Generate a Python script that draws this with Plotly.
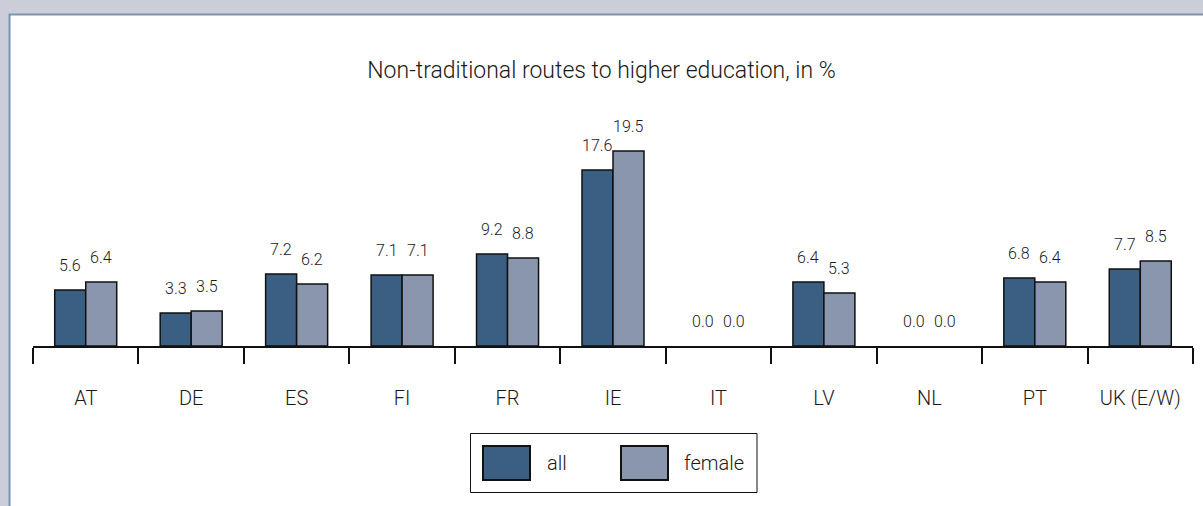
import plotly.graph_objects as go

categories = ["AT", "DE", "ES", "FI", "FR", "IE", "IT", "LV", "NL", "PT", "UK (E/W)"]
all_values = [5.6, 3.3, 7.2, 7.1, 9.2, 17.6, 0.0, 6.4, 0.0, 6.8, 7.7]
female_values = [6.4, 3.5, 6.2, 7.1, 8.8, 19.5, 0.0, 5.3, 0.0, 6.4, 8.5]
series_names = ["all", "female"]
title_text = "Non-traditional routes to higher education, in %"

FONT = "Roboto, Liberation Sans, sans-serif"
TXT = "#1a1a1a"
W, H = 1203, 506
ML, MR, MT, MB = 33, 10, 141, 160
YMAX = 20.5

ph = H - MT - MB
pw = W - ML - MR
def px_x(p):
    return (p - ML) / pw
def px_y(p):
    return (H - MB - p) / ph

fig = go.Figure()
colors = ["#3a5f83", "#8a95ae"]
for name, vals, col in zip(series_names, [all_values, female_values], colors):
    fig.add_trace(go.Bar(
        x=categories, y=vals, name=name,
        marker=dict(color=col, line=dict(color="#111111",
                                         width=[1.5 if v > 0 else 0 for v in vals])),
        cliponaxis=False, showlegend=False,
    ))

# data labels above bars
BARGAP = 0.412
cat_px = pw / len(categories)
bar_px = cat_px * (1 - BARGAP) / 2
for i, vals in enumerate([all_values, female_values]):
    shift = (-0.5 if i == 0 else 0.5) * bar_px
    for c, v in zip(categories, vals):
        fig.add_annotation(x=c, y=v, text=f"{v:.1f}", showarrow=False,
                           xshift=shift, yshift=13, yanchor="bottom",
                           font=dict(family=FONT, size=16, color=TXT, weight=300))

# white panel
fig.add_shape(type="rect", xref="paper", yref="paper",
              x0=px_x(9.5), x1=px_x(1215), y0=px_y(520), y1=px_y(14.5),
              fillcolor="white", line=dict(color="#7b93ae", width=2), layer="below")

# legend (drawn box with swatches)
fig.add_shape(type="rect", xref="paper", yref="paper",
              x0=px_x(470.5), x1=px_x(757), y0=px_y(492.5), y1=px_y(433.5),
              fillcolor="white", line=dict(color="#111111", width=1))
sw_x = [483, 621]
tx_x = [545, 682]
for name, col, sx, tx in zip(series_names, colors, sw_x, tx_x):
    fig.add_shape(type="rect", xref="paper", yref="paper",
                  x0=px_x(sx), x1=px_x(sx + 47), y0=px_y(480), y1=px_y(446),
                  fillcolor=col, line=dict(color="#111111", width=2))
    fig.add_annotation(xref="paper", yref="paper", x=px_x(tx), y=px_y(463),
                       xanchor="left", yanchor="middle", text=name, showarrow=False,
                       font=dict(family=FONT, size=20, color=TXT, weight=300))

fig.update_layout(
    width=W, height=H,
    paper_bgcolor="#cbced9", plot_bgcolor="rgba(0,0,0,0)",
    margin=dict(l=ML, r=MR, t=MT, b=MB, autoexpand=False),
    barmode="group", bargap=BARGAP, bargroupgap=0,
    title=dict(text=title_text, x=0.5, xanchor="center", y=1 - 70 / H, yanchor="middle",
               font=dict(family=FONT, size=23, color=TXT, weight=300)),
    font=dict(family=FONT, color=TXT),
    showlegend=False,
)
fig.update_xaxes(
    type="category", showline=True, linecolor="#111111", linewidth=1.5,
    ticks="outside", tickson="boundaries", ticklen=16, tickwidth=1.5, tickcolor="#111111",
    showgrid=False, ticklabelstandoff=33,
    tickfont=dict(family=FONT, size=20, color=TXT, weight=300),
)
fig.update_yaxes(range=[0, YMAX], visible=False, showgrid=False, zeroline=False)

fig.write_html("out.html", config={"displayModeBar": False},
               post_script="document.body.style.margin='0';document.body.style.overflow='hidden';")
